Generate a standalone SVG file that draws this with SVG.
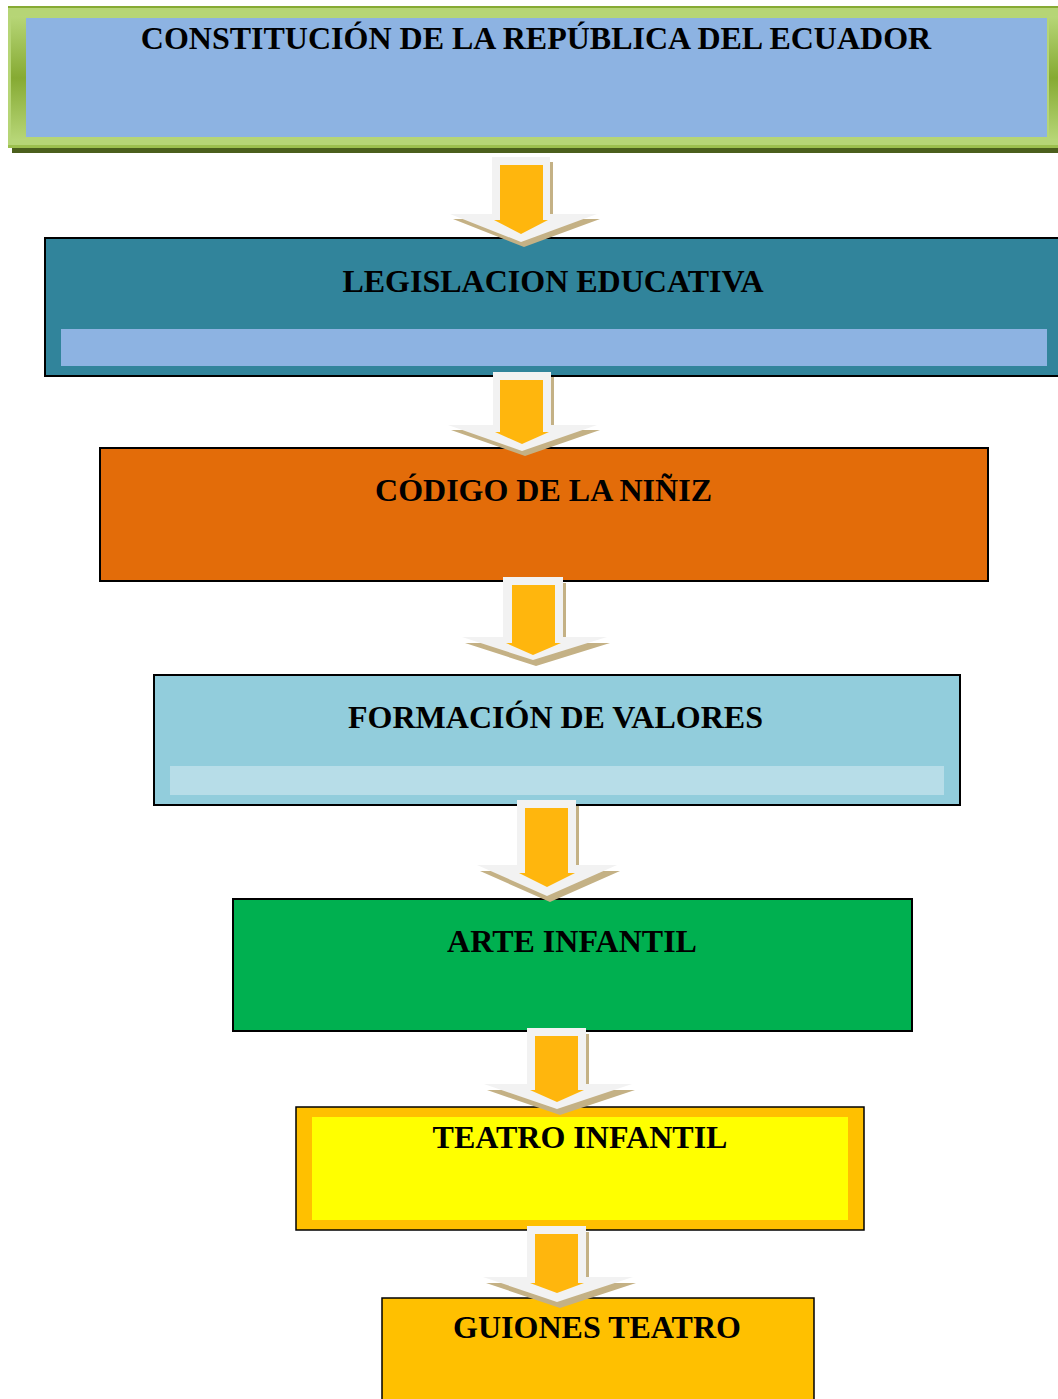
<svg xmlns="http://www.w3.org/2000/svg" width="1058" height="1399" viewBox="0 0 1058 1399">
<defs>
<linearGradient id="bev" x1="0" y1="0" x2="0" y2="1">
<stop offset="0" stop-color="#b7d677"/>
<stop offset="0.5" stop-color="#86aa33"/>
<stop offset="1" stop-color="#b7d677"/>
</linearGradient>
</defs>
<style>
.t{font-family:"Liberation Serif","Times New Roman",serif;font-weight:bold;font-size:32px;fill:#000;text-anchor:middle}
.bx{stroke:#000;stroke-width:2}
.sh{fill:#c4b185}
.wh{fill:#f2f2f2}
.or{fill:#ffb60d}
</style>
<g id="n1">
<rect x="12" y="12" width="1050" height="141" fill="#4b5f1c"/>
<rect x="8" y="6" width="1054" height="142" fill="#b6d576"/>
<rect x="8" y="6" width="1054" height="2" fill="#86aa33"/>
<rect x="8" y="145" width="1054" height="3" fill="#9cbf4e"/>
<rect x="11" y="16" width="15" height="124" fill="url(#bev)"/>
<rect x="1049" y="16" width="12" height="124" fill="url(#bev)"/>
<rect x="26" y="18" width="1021" height="119" fill="#8db3e2"/>
<text class="t" x="536" y="49">CONSTITUCIÓN DE LA REPÚBLICA DEL ECUADOR</text>
</g>
<g id="n2">
<rect class="bx" x="45" y="238" width="1020" height="138" fill="#31849b"/>
<rect x="61" y="329" width="986" height="37" fill="#8db3e2"/>
<text class="t" x="553" y="292">LEGISLACION EDUCATIVA</text>
</g>
<g id="n3">
<rect class="bx" x="100" y="448" width="888" height="133" fill="#e36c09"/>
<text class="t" x="543.5" y="501">CÓDIGO DE LA NIÑIZ</text>
</g>
<g id="n4">
<rect class="bx" x="154" y="675" width="806" height="130" fill="#92cddc"/>
<rect x="170" y="766" width="774" height="29" fill="#b7dde8"/>
<text class="t" x="555.5" y="728">FORMACIÓN DE VALORES</text>
</g>
<g id="n5">
<rect class="bx" x="233" y="899" width="679" height="132" fill="#00b050"/>
<text class="t" x="572" y="952">ARTE INFANTIL</text>
</g>
<g id="n6">
<rect x="296" y="1107" width="568" height="123" fill="#ffc000" stroke="#000" stroke-width="1.5"/>
<rect x="312" y="1117" width="536" height="103" fill="#ffff00"/>
<text class="t" x="580" y="1148">TEATRO INFANTIL</text>
</g>
<g id="n7">
<rect x="382" y="1298" width="432" height="110" fill="#ffc000" stroke="#000" stroke-width="1.5"/>
<text class="t" x="597" y="1338">GUIONES TEATRO</text>
</g>
<g id="connectors">
<g id="a1">
<path class="sh" transform="translate(3,5)" d="M492 157H550V214H597L521 242L450 214H492Z"/>
<path class="wh" d="M492 157H550V214H597L521 242L450 214H492Z"/>
<path class="or" d="M500 165H543V220H548L521 234L494 220H500Z"/>
</g>
<g id="a2">
<path class="sh" transform="translate(3,5)" d="M493 372H551V425H597L522 451L448 425H493Z"/>
<path class="wh" d="M493 372H551V425H597L522 451L448 425H493Z"/>
<path class="or" d="M500 380H543V432H549L522 444L495 432H500Z"/>
</g>
<g id="a3">
<path class="sh" transform="translate(3,6)" d="M503 577H563V637H607L533 660L462 637H503Z"/>
<path class="wh" d="M503 577H563V637H607L533 660L462 637H503Z"/>
<path class="or" d="M512 585H555V643H561L533 655L506 643H512Z"/>
</g>
<g id="a4">
<path class="sh" transform="translate(3,6)" d="M517 800H576V865H617L547 896L477 865H517Z"/>
<path class="wh" d="M517 800H576V865H617L547 896L477 865H517Z"/>
<path class="or" d="M525 808H568V873H575L547 887L519 873H525Z"/>
</g>
<g id="a5">
<path class="sh" transform="translate(3,6)" d="M527 1028H586V1084H632L557 1109L484 1084H527Z"/>
<path class="wh" d="M527 1028H586V1084H632L557 1109L484 1084H527Z"/>
<path class="or" d="M535 1036H578V1090H584L557 1102L530 1090H535Z"/>
</g>
<g id="a6">
<path class="sh" transform="translate(3,6)" d="M527 1226H586V1277H633L557 1302L483 1277H527Z"/>
<path class="wh" d="M527 1226H586V1277H633L557 1302L483 1277H527Z"/>
<path class="or" d="M535 1234H578V1283H584L557 1293L530 1283H535Z"/>
</g>
</g>
</svg>
